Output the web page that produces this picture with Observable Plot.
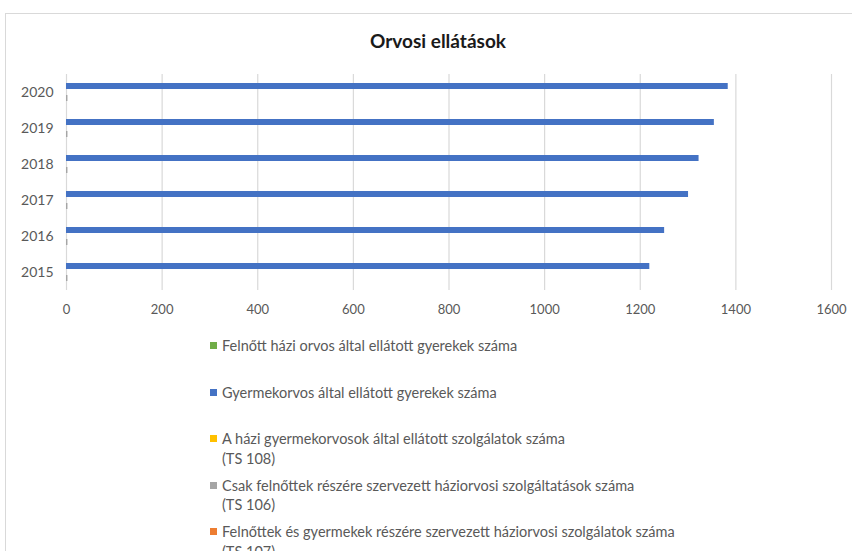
<!DOCTYPE html>
<html>
<head>
<meta charset="utf-8">
<script src="https://cdn.jsdelivr.net/npm/d3@7"></script>
<script src="https://cdn.jsdelivr.net/npm/@observablehq/plot@0.6"></script>
<style>
  html, body { margin: 0; padding: 0; background: #fff; width: 852px; height: 551px; overflow: hidden; }
  body { position: relative; font-family: Lato, "Open Sans", sans-serif; }
  #frame { position: absolute; left: 5px; top: 13px; width: 900px; height: 600px; border: 1px solid #d9d9d9; box-sizing: border-box; }
  #title { position: absolute; left: 0; width: 876px; top: 29px; text-align: center; font-size: 19px; font-weight: 700; color: #1a1a1a; line-height: 24px; }
  #chart { position: absolute; left: 0; top: 60px; }
  #legend { position: absolute; left: 210px; top: 336px; font-size: 14.5px; color: #595959; }
  .item { position: relative; height: 46.5px; line-height: 19.5px; padding-left: 12px; white-space: nowrap; }
  .sw { position: absolute; left: 0; top: 6px; width: 7px; height: 7px; }
</style>
</head>
<body>
<div id="frame"></div>
<div id="title">Orvosi ellátások</div>
<div id="chart"></div>
<div id="legend"></div>
<script>
const years = [2015, 2016, 2017, 2018, 2019, 2020];
const seriesNames = [
  "Felnőtt házi orvos által ellátott gyerekek száma",
  "Gyermekorvos által ellátott gyerekek száma",
  "A házi gyermekorvosok által ellátott szolgálatok száma (TS 108)",
  "Csak felnőttek részére szervezett háziorvosi szolgáltatások száma (TS 106)",
  "Felnőttek és gyermekek részére szervezett háziorvosi szolgálatok száma (TS 107)"
];
const seriesColors = ["#70AD47", "#4472C4", "#FFC000", "#A5A5A5", "#ED7D31"];
const felnottHaziGyerek = [0, 0, 0, 0, 0, 0];
const gyermekorvosGyerek = [1220, 1251, 1301, 1323, 1355, 1384];
const ts108 = [0, 0, 0, 0, 0, 0];
const ts106 = [3, 3, 3, 3, 3, 3];
const ts107 = [0, 0, 0, 0, 0, 0];
const xTicks = [0, 200, 400, 600, 800, 1000, 1200, 1400, 1600];

const seriesValues = [felnottHaziGyerek, gyermekorvosGyerek, ts108, ts106, ts107];
const rows = [];
seriesNames.forEach((s, i) => {
  years.forEach((y, j) => rows.push({year: y, series: s, value: seriesValues[i][j]}));
});

const plot = Plot.plot({
  width: 852,
  height: 260,
  marginLeft: 66,
  marginRight: 21,
  marginTop: 14,
  marginBottom: 30,
  style: {fontFamily: "Lato, sans-serif", color: "#595959", background: "transparent"},
  x: {domain: [0, 1600]},
  fy: {domain: years.slice().reverse(), padding: 0},
  y: {domain: seriesNames, paddingInner: 0, paddingOuter: 0.5, axis: null},
  color: {domain: seriesNames, range: seriesColors},
  marks: [
    Plot.gridX(xTicks, {stroke: "#d9d9d9", strokeOpacity: 1, strokeWidth: 1.2}),
    Plot.barX(rows, {fy: "year", y: "series", x: "value", fill: "series"}),
    Plot.axisX(xTicks, {tickSize: 0, tickPadding: 14, fontSize: 13, label: null, fill: "#595959", tickFormat: d => String(d)}),
    Plot.axisFy({anchor: "left", tickSize: 0, tickPadding: 13, fontSize: 14, label: null, fill: "#595959", tickFormat: d => String(d)})
  ]
});
document.getElementById("chart").appendChild(plot);

const legend = d3.select("#legend");
seriesNames.forEach((s, i) => {
  const item = legend.append("div").attr("class", "item");
  item.append("div").attr("class", "sw").style("background", seriesColors[i]);
  item.append("span").html(s.replace(" (TS", "<br>(TS"));
});
</script>
</body>
</html>
